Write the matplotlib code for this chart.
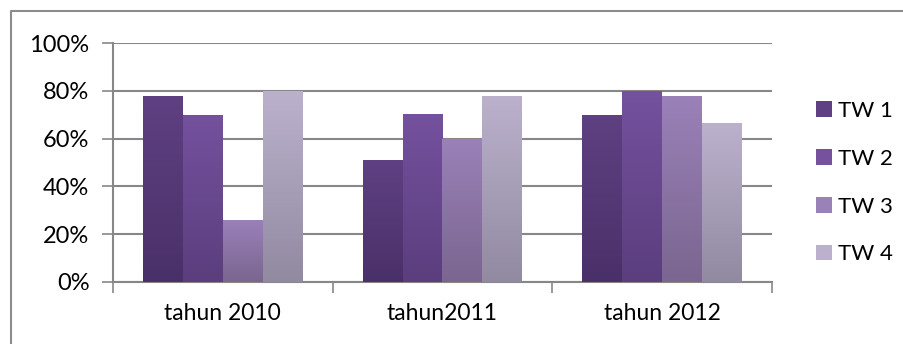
import numpy as np
import matplotlib
matplotlib.use('Agg')
import matplotlib.pyplot as plt
from matplotlib.colors import LinearSegmentedColormap
from matplotlib.patches import Patch
from matplotlib.lines import Line2D

categories = ['tahun 2010', 'tahun2011', 'tahun 2012']
series = ['TW 1', 'TW 2', 'TW 3', 'TW 4']
tw1 = [0.78, 0.51, 0.70]
tw2 = [0.70, 0.705, 0.80]
tw3 = [0.26, 0.60, 0.78]
tw4 = [0.80, 0.78, 0.665]
values = [tw1, tw2, tw3, tw4]

# (top colour, bottom colour) per series
top_colors = ['#5f4082', '#75519e', '#9a81b8', '#bbb1cd']
bottom_colors = ['#4a3069', '#5b3e7e', '#7a6690', '#928aa1']

plt.rcParams['font.family'] = ['Lato', 'DejaVu Sans']

fig = plt.figure(figsize=(9.04, 3.44), dpi=100)
ax = fig.add_axes([113 / 904, 1 - 282 / 344, (772 - 113) / 904, (282 - 43) / 344])

x = np.arange(len(categories))
w = 40 / 220.
for i, vals in enumerate(values):
    bars = ax.bar(x + (i - 1.5) * w, vals, width=w, color='none', zorder=3)
    cmap = LinearSegmentedColormap.from_list('g%d' % i, [bottom_colors[i], top_colors[i]])
    grad = np.linspace(0, 1, 100).reshape(-1, 1)
    for b in bars:
        x0, y0 = b.get_x(), b.get_y()
        im = ax.imshow(grad, cmap=cmap, origin='lower', aspect='auto',
                       extent=[x0, x0 + b.get_width(), y0, y0 + b.get_height()],
                       zorder=3)
        im.set_clip_path(b)

ax.set_xlim(-0.5, 2.5)
ax.set_ylim(0, 1)
ax.set_yticks(np.arange(0, 1.01, 0.2))
ax.set_yticklabels(['%d%%' % round(v * 100) for v in np.arange(0, 1.01, 0.2)])
ax.yaxis.grid(True, color='#878787', linewidth=1.5, zorder=0)
ax.set_axisbelow(True)

ax.set_xticks([-0.5, 0.5, 1.5, 2.5])
ax.set_xticklabels([])
ax.set_xticks(x, minor=True)
ax.set_xticklabels(categories, minor=True)
ax.tick_params(axis='x', which='major', length=8, width=1.2, color='#878787')
ax.tick_params(axis='x', which='minor', length=0, pad=15, labelsize=16.5)
ax.tick_params(axis='y', length=8, width=1.2, color='#878787', pad=9, labelsize=17)

for s in ['top', 'right']:
    ax.spines[s].set_visible(False)
for s in ['left', 'bottom']:
    ax.spines[s].set_color('#878787')
    ax.spines[s].set_linewidth(1.5)

handles = [Patch(facecolor=top_colors[i], edgecolor='none') for i in range(4)]
fig.legend(handles, series, loc='upper left', bbox_to_anchor=(796 / 904, 1 - 81 / 344),
           frameon=False, fontsize=16, handlelength=0.7, handleheight=0.7,
           handletextpad=0.3, labelspacing=1.25)

# outer chart frame
fig.add_artist(Line2D([11 / 904, 11 / 904, 1], [0, 1 - 11 / 344, 1 - 11 / 344],
                      color='#8c8c8c', linewidth=1.5, transform=fig.transFigure))

fig.savefig('out.png', dpi=100)
